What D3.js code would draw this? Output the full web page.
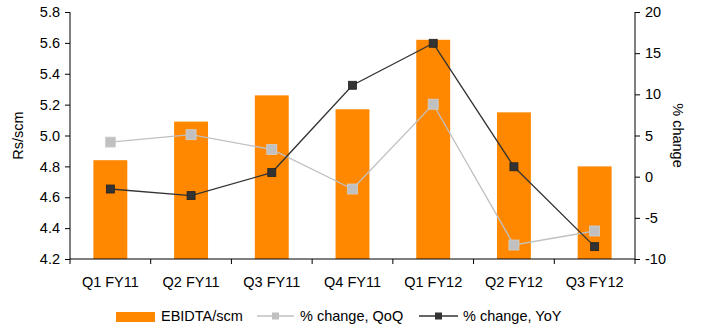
<!DOCTYPE html>
<html>
<head>
<meta charset="utf-8">
<script src="https://cdn.jsdelivr.net/npm/d3@7"></script>
<style>
  html, body { margin: 0; padding: 0; background: #fff; }
  svg { display: block; font-family: "Liberation Sans", Arial, sans-serif; }
</style>
</head>
<body>
<svg id="chart" width="704" height="328"></svg>
<script>
// Quarterly EBIDTA per scm with QoQ and YoY % change
const quarters = ["Q1 FY11", "Q2 FY11", "Q3 FY11", "Q4 FY11", "Q1 FY12", "Q2 FY12", "Q3 FY12"];
const ebidta = [4.84, 5.09, 5.26, 5.17, 5.62, 5.15, 4.80];
const changeQoQ = [4.2, 5.1, 3.3, -1.5, 8.8, -8.3, -6.6];
const changeYoY = [-1.5, -2.3, 0.5, 11.1, 16.2, 1.2, -8.5];
const leftTicks = [4.2, 4.4, 4.6, 4.8, 5.0, 5.2, 5.4, 5.6, 5.8];
const rightTicks = [-10, -5, 0, 5, 10, 15, 20];

const svg = d3.select("#chart");
const m = { left: 70, right: 635, top: 12, bottom: 259 };

const x = d3.scaleBand().domain(quarters).range([m.left, m.right]).paddingInner(0.58).paddingOuter(0.29);
const xc = d => x(d) + x.bandwidth() / 2;
const yL = d3.scaleLinear().domain([4.2, 5.8]).range([m.bottom, m.top]);
const yR = d3.scaleLinear().domain([-10, 20]).range([m.bottom, m.top]);

const barColor = "#FF8800";
const qoqColor = "#C0C0C0";
const yoyColor = "#333333";
const fontSize = 14.5;

// Bars
svg.append("g").selectAll("rect").data(quarters).join("rect")
  .attr("x", d => x(d))
  .attr("width", x.bandwidth())
  .attr("y", (d, i) => yL(ebidta[i]))
  .attr("height", (d, i) => m.bottom - yL(ebidta[i]))
  .attr("fill", barColor);

// Value axes
const axL = svg.append("g").attr("transform", `translate(${m.left},0)`)
  .call(d3.axisLeft(yL).tickValues(leftTicks).tickFormat(d3.format(".1f")).tickSizeOuter(0).tickSize(5).tickPadding(5));
const axR = svg.append("g").attr("transform", `translate(${m.right},0)`)
  .call(d3.axisRight(yR).tickValues(rightTicks).tickFormat(d => d < 0 ? "-" + Math.abs(d) : d).tickSizeOuter(0).tickSize(5).tickPadding(5));

// Category axis with ticks on band boundaries
const axB = svg.append("g").attr("transform", `translate(0,${m.bottom})`);
axB.append("line").attr("x1", m.left).attr("x2", m.right).attr("stroke", "#000");
const bounds = d3.range(quarters.length + 1).map(i => m.left + i * (m.right - m.left) / quarters.length);
axB.selectAll("line.tk").data(bounds).join("line").attr("class", "tk")
  .attr("x1", d => d).attr("x2", d => d).attr("y1", 0).attr("y2", 5).attr("stroke", "#000");
axB.selectAll("text").data(quarters).join("text")
  .attr("x", d => xc(d)).attr("y", 28)
  .attr("text-anchor", "middle").attr("font-size", fontSize).attr("fill", "#000")
  .text(d => d);

[axL, axR].forEach(a => {
  a.selectAll("path, line").attr("stroke", "#000");
  a.selectAll("text").attr("font-size", fontSize).attr("fill", "#000").style("font-family", "Liberation Sans, Arial, sans-serif");
});
axL.select(".domain").attr("d", `M0,${m.top}V${m.bottom}`);
axR.select(".domain").attr("d", `M0,${m.top}V${m.bottom}`);

// Axis titles
svg.append("text").attr("transform", `translate(23,${(m.top + m.bottom) / 2}) rotate(-90)`)
  .attr("text-anchor", "middle").attr("font-size", fontSize).text("Rs/scm");
svg.append("text").attr("transform", `translate(673,${(m.top + m.bottom) / 2}) rotate(90)`)
  .attr("text-anchor", "middle").attr("font-size", fontSize).text("% change");

// Lines with square markers
function series(values, color, stroke, size) {
  const line = d3.line().x((d, i) => xc(quarters[i])).y(d => yR(d));
  svg.append("path").datum(values).attr("d", line)
    .attr("fill", "none").attr("stroke", color).attr("stroke-width", 1.3);
  svg.append("g").selectAll("rect").data(values).join("rect")
    .attr("x", (d, i) => xc(quarters[i]) - size / 2)
    .attr("y", d => yR(d) - size / 2)
    .attr("width", size).attr("height", size)
    .attr("fill", color).attr("stroke", stroke).attr("stroke-width", 0.8);
}
series(changeQoQ, qoqColor, "#D0D0D0", 10);
series(changeYoY, yoyColor, "#222", 8);

// Legend
const lg = svg.append("g").attr("font-size", fontSize);
lg.append("rect").attr("x", 116).attr("y", 312).attr("width", 39).attr("height", 10).attr("fill", barColor);
lg.append("text").attr("x", 161).attr("y", 321).text("EBIDTA/scm");
lg.append("line").attr("x1", 257).attr("x2", 294).attr("y1", 316).attr("y2", 316).attr("stroke", qoqColor).attr("stroke-width", 1.3);
lg.append("rect").attr("x", 272).attr("y", 312.5).attr("width", 7).attr("height", 7).attr("fill", qoqColor);
lg.append("text").attr("x", 300).attr("y", 321).text("% change, QoQ");
lg.append("line").attr("x1", 419).attr("x2", 458).attr("y1", 316).attr("y2", 316).attr("stroke", yoyColor).attr("stroke-width", 1.3);
lg.append("rect").attr("x", 435).attr("y", 312.5).attr("width", 7).attr("height", 7).attr("fill", yoyColor);
lg.append("text").attr("x", 463).attr("y", 321).text("% change, YoY");
</script>
</body>
</html>
